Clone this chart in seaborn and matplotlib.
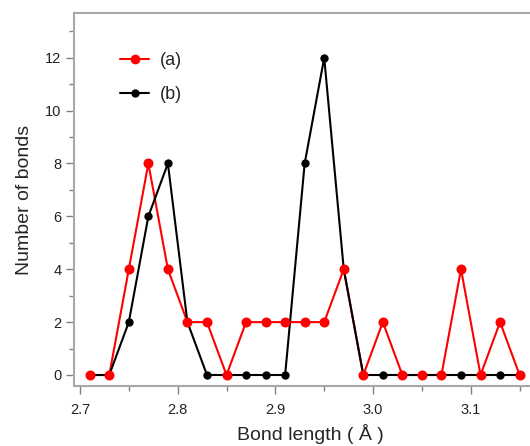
import numpy as np
import pandas as pd
import matplotlib
matplotlib.use("Agg")
import matplotlib.pyplot as plt
from matplotlib.lines import Line2D
from matplotlib.ticker import MultipleLocator
import seaborn as sns

# bond length bins (Angstrom)
longitud = [2.71, 2.73, 2.75, 2.77, 2.79, 2.81, 2.83, 2.85, 2.87, 2.89, 2.91, 2.93,
            2.95, 2.97, 2.99, 3.01, 3.03, 3.05, 3.07, 3.09, 3.11, 3.13, 3.15]
serie_a = [0, 0, 4, 8, 4, 2, 2, 0, 2, 2, 2, 2, 2, 4, 0, 2, 0, 0, 0, 4, 0, 2, 0]
serie_b = [0, 0, 2, 6, 8, 2, 0, 0, 0, 0, 0, 8, 12, 4, 0, 0, 0, 0, 0, 0, 0, 0, 0]
etiquetas = ["(a)", "(b)"]

df = pd.DataFrame({"x": longitud, "a": serie_a, "b": serie_b})

sns.set_style("white")
plt.rcParams['font.family'] = ['Liberation Sans', 'DejaVu Sans']

fig = plt.figure(figsize=(5.3, 4.46), dpi=100)
# el borde derecho queda fuera de la imagen, como en el original
ax = fig.add_axes([74 / 530, 60 / 446, 472 / 530, 373 / 446])

# linea roja debajo, luego negra, luego marcadores rojos encima
sns.lineplot(data=df, x="x", y="a", color="#ff0000", linewidth=1.5, ax=ax, zorder=2)
sns.lineplot(data=df, x="x", y="b", color="black", linewidth=1.5, marker="o",
             markersize=6, markeredgewidth=0, ax=ax, zorder=3)
sns.scatterplot(data=df, x="x", y="a", color="#ff0000", s=52, linewidth=0, ax=ax, zorder=4)

ax.set_xlim(2.6939, 3.1770)
ax.set_ylim(-0.416, 13.69)
ax.xaxis.set_major_locator(MultipleLocator(0.1))
ax.xaxis.set_minor_locator(MultipleLocator(0.05))
ax.yaxis.set_major_locator(MultipleLocator(2))
ax.yaxis.set_minor_locator(MultipleLocator(1))
ax.set_xticks([2.7, 2.8, 2.9, 3.0, 3.1])
ax.set_xticklabels(["2.7", "2.8", "2.9", "3.0", "3.1"])

ax.tick_params(which="major", direction="out", length=6, width=1, color="#808080",
               labelsize=10.5, labelcolor="#222222", bottom=True, left=True, pad=3)
ax.tick_params(which="minor", direction="out", length=3.5, width=1, color="#808080",
               bottom=True, left=True)
ax.tick_params(axis="x", pad=6)
for lado in ["left", "bottom", "top", "right"]:
    ax.spines[lado].set_color("#a8a8a8")
    ax.spines[lado].set_linewidth(1.5)

ax.set_xlabel("Bond length ( Å )", fontsize=14, labelpad=5)
ax.set_ylabel("Number of bonds", fontsize=14, labelpad=9)

handles = [Line2D([], [], color="#ff0000", lw=1.5, marker="o", markersize=7, markeredgewidth=0),
           Line2D([], [], color="black", lw=1.5, marker="o", markersize=6, markeredgewidth=0)]
ax.legend(handles, etiquetas, loc="upper left", bbox_to_anchor=(0.098, 0.895), frameon=False,
          fontsize=13, handlelength=1.6, handletextpad=0.6, labelspacing=0.95,
          borderpad=0, borderaxespad=0)

fig.savefig("out.png", dpi=100)
